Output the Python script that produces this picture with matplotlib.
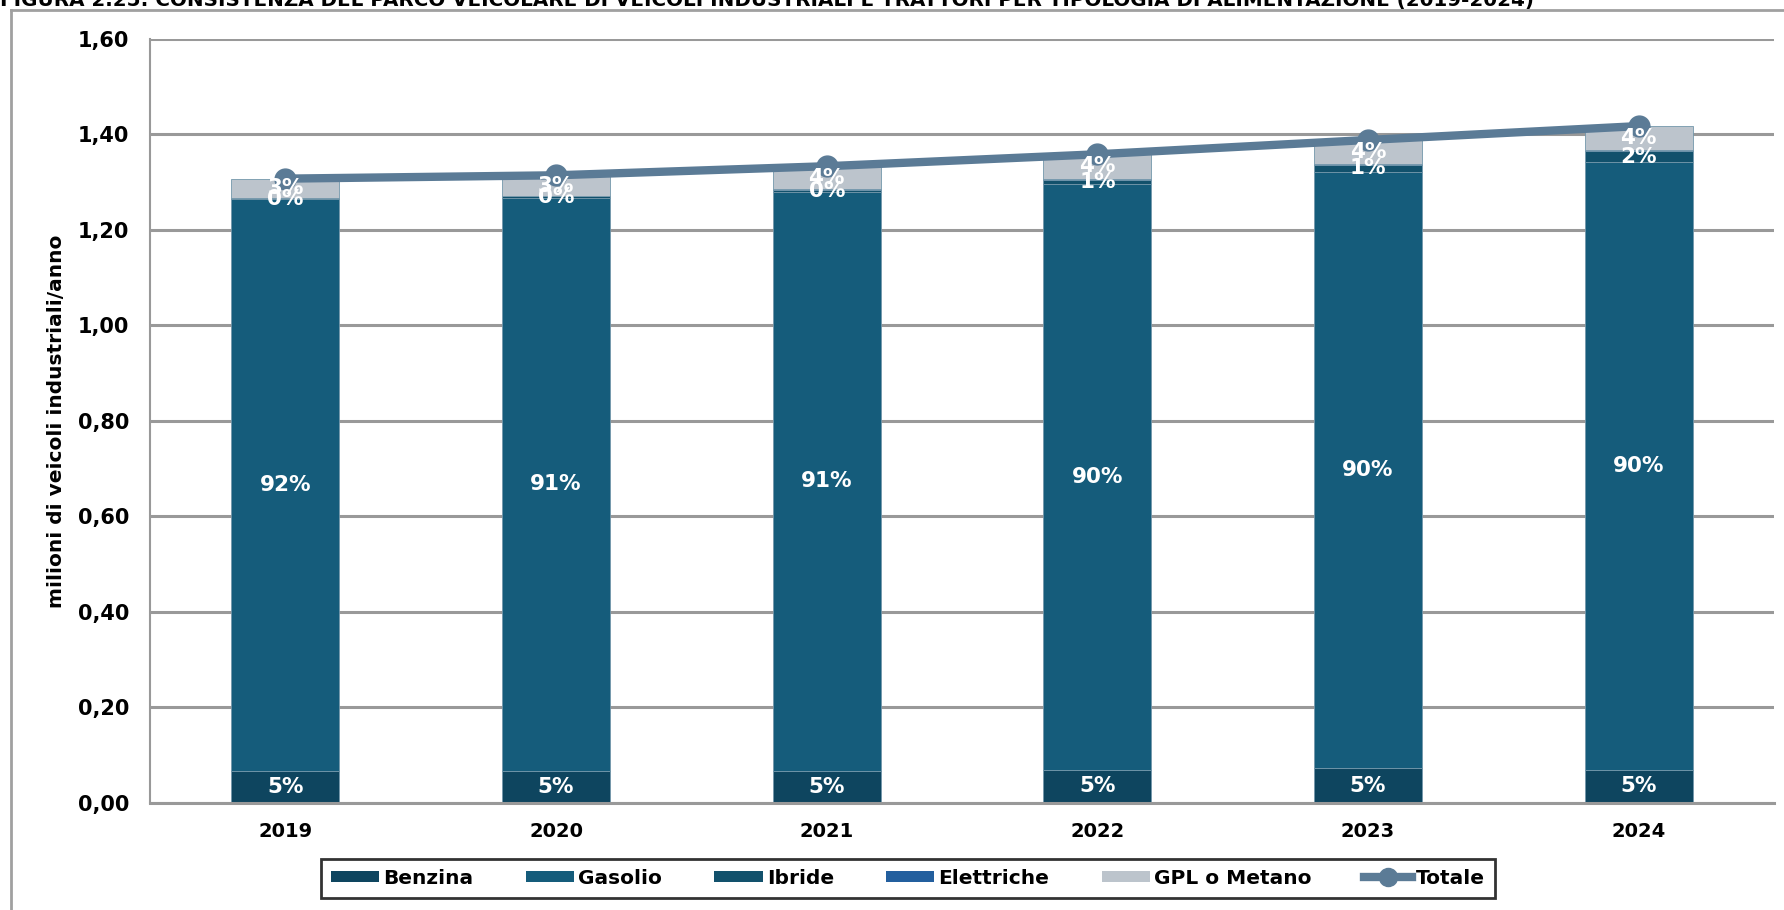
import numpy as np
import matplotlib.pyplot as plt
from matplotlib.lines import Line2D
from matplotlib.patches import Patch

# values in millions of vehicles
anni = ['2019', '2020', '2021', '2022', '2023', '2024']
benzina = [0.067, 0.067, 0.068, 0.070, 0.073, 0.070]
gasolio = [1.197, 1.200, 1.212, 1.226, 1.248, 1.272]
ibride = [0.002, 0.003, 0.004, 0.009, 0.015, 0.022]
elettriche = [0.001, 0.001, 0.001, 0.002, 0.002, 0.002]
gpl_metano = [0.040, 0.043, 0.048, 0.051, 0.050, 0.051]
totale = [1.307, 1.314, 1.333, 1.358, 1.388, 1.417]

serie = [
    ('Benzina', benzina, '#0e455f', True),
    ('Gasolio', gasolio, '#155c7b', True),
    ('Ibride', ibride, '#12516c', True),
    ('Elettriche', elettriche, '#235f9e', False),
    ('GPL o Metano', gpl_metano, '#bcc4cc', True),
]
col_totale = '#5b7b96'

plt.rcParams['font.family'] = 'DejaVu Sans'

fig = plt.figure(figsize=(17.84, 9.10), dpi=100)
ax = fig.add_axes([0.0841, 0.1176, 0.9103, 0.8399])

x = np.arange(len(anni))
bottom = np.zeros(len(anni))
for nome, valori, colore, etichetta in serie:
    valori = np.array(valori)
    ax.bar(x, valori, width=0.4, bottom=bottom, color=colore, edgecolor='#7397ab',
           linewidth=0.6, zorder=2)
    if etichetta:
        for i in range(len(anni)):
            perc = valori[i] / totale[i] * 100
            ax.text(x[i], bottom[i] + valori[i] / 2, f'{perc:.0f}%', ha='center', va='center',
                    color='white', fontsize=15.5, fontweight='bold', zorder=5)
    bottom += valori

ax.plot(x, totale, color=col_totale, linewidth=6, marker='o', markersize=15,
        solid_capstyle='round', zorder=4)

ax.set_xlim(-0.5, len(anni) - 0.5)
ax.set_ylim(0, 1.6)
yt = np.arange(0, 1.61, 0.2)
ax.set_yticks(yt)
ax.set_yticklabels([f'{v:.2f}'.replace('.', ',') for v in yt], fontsize=15, fontweight='bold')
ax.set_xticks(x)
ax.set_xticklabels(anni, fontsize=14, fontweight='bold')
ax.tick_params(axis='both', length=0)
ax.tick_params(axis='y', pad=15)
ax.tick_params(axis='x', pad=14)
ax.grid(axis='y', color='#999999', linewidth=2.2, zorder=0)
ax.set_axisbelow(True)
for s in ['top', 'right']:
    ax.spines[s].set_visible(False)
ax.spines['left'].set_color('#999999')
ax.spines['left'].set_linewidth(1.5)
ax.spines['bottom'].set_color('#999999')
ax.spines['bottom'].set_linewidth(2.2)
ax.set_ylabel('milioni di veicoli industriali/anno', fontsize=14.5, fontweight='bold')
ax.yaxis.set_label_coords(-0.052, 0.5)

handles = [Patch(facecolor=c, edgecolor='none') for _, _, c, _ in serie]
handles.append(Line2D([], [], color=col_totale, linewidth=6, marker='o', markersize=13))
labels = [n for n, _, _, _ in serie] + ['Totale']
leg = fig.legend(handles, labels, loc='center', bbox_to_anchor=(0.509, 0.035), ncol=6,
                 prop={'size': 14.5, 'weight': 'bold'}, frameon=True, fancybox=False,
                 handlelength=2.4, handleheight=0.5, handletextpad=0.2, columnspacing=2.6,
                 borderpad=0.5)
leg.get_frame().set_edgecolor('black')
leg.get_frame().set_linewidth(2)

# outer frame and cut-off title
fig.add_artist(Line2D([11 / 1784, 11 / 1784], [0, 1 - 10 / 910], color='#a0a0a0', linewidth=2,
                      transform=fig.transFigure))
fig.add_artist(Line2D([11 / 1784, 1], [1 - 10 / 910, 1 - 10 / 910], color='#a0a0a0', linewidth=2,
                      transform=fig.transFigure))
fig.text(0.0, 1 - 6 / 910,
         'FIGURA 2.25: CONSISTENZA DEL PARCO VEICOLARE DI VEICOLI INDUSTRIALI E TRATTORI PER TIPOLOGIA DI ALIMENTAZIONE (2019-2024)',
         ha='left', va='baseline', fontsize=14.3, fontweight='bold')

fig.savefig('out.png', dpi=100)
